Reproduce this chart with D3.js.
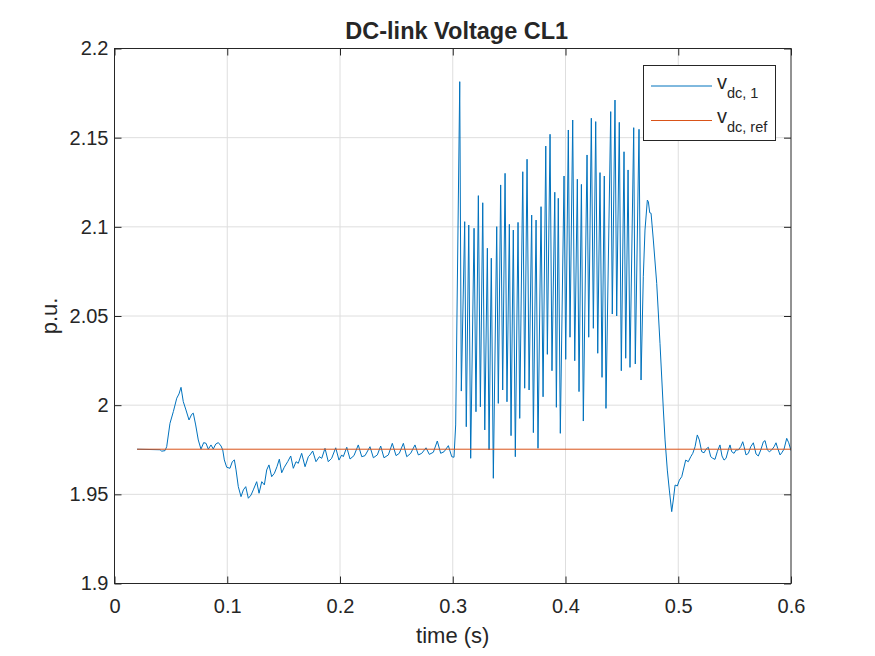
<!DOCTYPE html>
<html lang="en">
<head>
<meta charset="UTF-8">
<title>DC-link Voltage CL1</title>
<script src="https://d3js.org/d3.v7.min.js"></script>
<style>
  body { margin: 0; background: #fff; }
  svg text { font-family: "Liberation Sans", Arial, Helvetica, sans-serif; fill: #262626; }
</style>
</head>
<body>
<svg id="chart" width="875" height="656"></svg>
<script>
// v_dc,1, split in three stretches
const preTime = [0.0200, 0.0404, 0.0419, 0.0448, 0.0463, 0.0492, 0.0522, 0.0552, 0.0572, 0.0590, 0.0610, 0.0634, 0.0661, 0.0685, 0.0699, 0.0720, 0.0743, 0.0767, 0.0791, 0.0812, 0.0832, 0.0856, 0.0876, 0.0898, 0.0921, 0.0945, 0.0960, 0.0974, 0.0995, 0.1024, 0.1045, 0.1063, 0.1078, 0.1098, 0.1122, 0.1143, 0.1164, 0.1187, 0.1211, 0.1231, 0.1261, 0.1282, 0.1306, 0.1329, 0.1350, 0.1370, 0.1394, 0.1418, 0.1441, 0.1462, 0.1483, 0.1506, 0.1536, 0.1563,
  0.1586, 0.1610, 0.1630, 0.1660, 0.1690, 0.1719, 0.1734, 0.1758, 0.1787, 0.1817, 0.1838, 0.1867, 0.1896, 0.1926, 0.1962, 0.1991, 0.2015, 0.2029, 0.2060, 0.2089, 0.2124, 0.2162, 0.2193, 0.2222, 0.2266, 0.2296, 0.2331, 0.2361, 0.2390, 0.2429, 0.2464, 0.2497, 0.2526, 0.2562, 0.2592, 0.2627, 0.2665, 0.2695, 0.2725, 0.2763, 0.2792, 0.2828, 0.2863, 0.2893, 0.2923, 0.2961, 0.2991, 0.3011];
const preVdc = [1.9753, 1.9750, 1.9742, 1.9745, 1.9767, 1.9898, 1.9964, 2.0039, 2.0063, 2.0100, 2.0020, 1.9973, 1.9917, 1.9949, 1.9955, 1.9889, 1.9805, 1.9753, 1.9790, 1.9786, 1.9753, 1.9777, 1.9754, 1.9782, 1.9790, 1.9771, 1.9749, 1.9693, 1.9652, 1.9646, 1.9683, 1.9693, 1.9637, 1.9543, 1.9487, 1.9525, 1.9543, 1.9478, 1.9496, 1.9525, 1.9571, 1.9506, 1.9571, 1.9553, 1.9637, 1.9665, 1.9599, 1.9618, 1.9655, 1.9697, 1.9621, 1.9652, 1.9683, 1.9715,
  1.9646, 1.9683, 1.9674, 1.9730, 1.9655, 1.9711, 1.9721, 1.9743, 1.9683, 1.9711, 1.9702, 1.9758, 1.9683, 1.9702, 1.9761, 1.9692, 1.9721, 1.9711, 1.9764, 1.9698, 1.9717, 1.9777, 1.9711, 1.9717, 1.9767, 1.9705, 1.9721, 1.9771, 1.9705, 1.9721, 1.9786, 1.9717, 1.9730, 1.9786, 1.9711, 1.9730, 1.9777, 1.9721, 1.9730, 1.9761, 1.9724, 1.9736, 1.9799, 1.9730, 1.9739, 1.9773, 1.9711, 1.9708];

const oscTime = [0.3026, 0.3062, 0.3076, 0.3106, 0.3120, 0.3142, 0.3159, 0.3189, 0.3206, 0.3227, 0.3245, 0.3266, 0.3284, 0.3307, 0.3322, 0.3342, 0.3360, 0.3390, 0.3404, 0.3425, 0.3443, 0.3464, 0.3481, 0.3502, 0.3517, 0.3537, 0.3555, 0.3579, 0.3594, 0.3621, 0.3638, 0.3659, 0.3677, 0.3700, 0.3715, 0.3739, 0.3756, 0.3783, 0.3801, 0.3825, 0.3839, 0.3863, 0.3880, 0.3905, 0.3919, 0.3936, 0.3954, 0.3987, 0.4002, 0.4025, 0.4040, 0.4064, 0.4082, 0.4105, 0.4120, 0.4141, 0.4158, 0.4191, 0.4206, 0.4229, 0.4247, 0.4268, 0.4286, 0.4306, 0.4324, 0.4344, 0.4359, 0.4401, 0.4415, 0.4439, 0.4454, 0.4477, 0.4495, 0.4519, 0.4534, 0.4555, 0.4572, 0.4605, 0.4619, 0.4652, 0.4670];
const oscVdc = [1.9889, 2.1814, 2.0079, 2.1029, 1.9879, 2.1010, 1.9702, 2.0992, 1.9963, 2.1175, 1.9991, 2.1135, 1.9861, 2.0880, 1.9749, 2.0824, 1.9590, 2.1001, 2.0010, 2.1235, 2.0085, 2.1300, 2.0019, 2.1014, 1.9829, 2.0982, 1.9711, 2.1025, 1.9926, 2.1309, 2.0095, 2.1379, 2.0085, 2.1066, 1.9846, 2.1038, 1.9758, 2.1113, 2.0047, 2.1453, 2.0285, 2.1519, 2.0193, 2.1194, 1.9988, 2.1160, 1.9842, 2.1285, 2.0257, 2.1543, 2.0381, 2.1599, 2.0249, 2.1267, 2.0076, 2.1238, 1.9911, 2.1403, 2.0381, 2.1609, 2.0431, 2.1590, 2.0291, 2.1304, 2.0156, 2.1285, 1.9982, 2.1646, 2.0511, 2.1711, 2.0500, 2.1586, 2.0193, 2.1421, 2.0263, 2.1319, 2.0212, 2.1556, 2.0231, 2.1547, 2.0141];

const recTime = [0.4690, 0.4705, 0.4726, 0.4735, 0.4747, 0.4759, 0.4779, 0.4809, 0.4838, 0.4868, 0.4883, 0.4903, 0.4921, 0.4942, 0.4956, 0.4972, 0.4992, 0.5010, 0.5031, 0.5045, 0.5066, 0.5089, 0.5111, 0.5129, 0.5149, 0.5169, 0.5187, 0.5208, 0.5229, 0.5246, 0.5267, 0.5288, 0.5306, 0.5326, 0.5346, 0.5370, 0.5388, 0.5406, 0.5424, 0.5444, 0.5459, 0.5474, 0.5495, 0.5513, 0.5533, 0.5554, 0.5572, 0.5584, 0.5601, 0.5622, 0.5643, 0.5666, 0.5690, 0.5710, 0.5732, 0.5755, 0.5770, 0.5790, 0.5808, 0.5829, 0.5850, 0.5867, 0.5882, 0.5903, 0.5918, 0.5938, 0.5962, 0.5980, 0.6000];
const recVdc = [2.0720, 2.0982, 2.1150, 2.1141, 2.1079, 2.1076, 2.0926, 2.0683, 2.0347, 1.9973, 1.9805, 1.9636, 1.9524, 1.9403, 1.9468, 1.9552, 1.9547, 1.9580, 1.9599, 1.9636, 1.9692, 1.9683, 1.9711, 1.9730, 1.9767, 1.9833, 1.9805, 1.9739, 1.9733, 1.9753, 1.9764, 1.9711, 1.9702, 1.9696, 1.9739, 1.9777, 1.9715, 1.9692, 1.9702, 1.9749, 1.9777, 1.9739, 1.9730, 1.9749, 1.9749, 1.9767, 1.9795, 1.9767, 1.9721, 1.9730, 1.9767, 1.9789, 1.9726, 1.9715, 1.9749, 1.9795, 1.9801, 1.9749, 1.9739, 1.9749, 1.9767, 1.9789, 1.9758, 1.9721, 1.9733, 1.9753, 1.9814, 1.9789, 1.9745];

// reference
const refTime = [0.02, 0.6];
const refVdc = [1.9753, 1.9753];

const xTicks = [0, 0.1, 0.2, 0.3, 0.4, 0.5, 0.6];
const yTicks = [1.9, 1.95, 2, 2.05, 2.1, 2.15, 2.2];
const legendMain = ["v", "v"];
const legendSub = ["dc, 1", "dc, ref"];
const colors = ["#0072BD", "#D95319"];

const svg = d3.select("#chart");
const box = { left: 114.5, right: 791, top: 48.5, bottom: 583.5 };

const x = d3.scaleLinear().domain([0, 0.6]).range([box.left, box.right]);
const y = d3.scaleLinear().domain([1.9, 2.2]).range([box.bottom, box.top]);

// grid
const grid = svg.append("g").attr("stroke", "#dedede").attr("stroke-width", 1);
grid.selectAll(".gx").data(xTicks.slice(1, -1)).enter().append("line")
  .attr("x1", d => x(d)).attr("x2", d => x(d)).attr("y1", box.top).attr("y2", box.bottom);
grid.selectAll(".gy").data(yTicks.slice(1, -1)).enter().append("line")
  .attr("y1", d => y(d)).attr("y2", d => y(d)).attr("x1", box.left).attr("x2", box.right);

svg.append("clipPath").attr("id", "clip").append("rect")
  .attr("x", box.left).attr("y", box.top).attr("width", box.right - box.left).attr("height", box.bottom - box.top);

const line = d3.line().x(d => x(d[0])).y(d => y(d[1]));
const series1 = d3.zip(preTime.concat(oscTime, recTime), preVdc.concat(oscVdc, recVdc));
const seriesRef = d3.zip(refTime, refVdc);

const plot = svg.append("g").attr("clip-path", "url(#clip)");
plot.append("path").datum(series1).attr("d", line)
  .attr("fill", "none").attr("stroke", colors[0]).attr("stroke-width", 1).attr("stroke-linejoin", "round");
plot.append("path").datum(seriesRef).attr("d", line)
  .attr("fill", "none").attr("stroke", colors[1]).attr("stroke-width", 1);

// axes, ticks pointing inward on all four sides
const fmt = d => String(d);
function styleAxis(g) {
  g.select(".domain").remove();
  g.selectAll(".tick line").attr("stroke", "#262626");
  g.selectAll(".tick text").attr("font-size", 20).attr("fill", "#262626")
    .style("font-family", '"Liberation Sans", Arial, sans-serif');
}
svg.append("g").attr("transform", `translate(0,${box.bottom})`)
  .call(d3.axisBottom(x).tickValues(xTicks).tickFormat(fmt).tickSize(-7).tickPadding(15))
  .call(styleAxis);
svg.append("g").attr("transform", `translate(0,${box.top})`)
  .call(d3.axisTop(x).tickValues(xTicks).tickFormat("").tickSize(-7))
  .call(styleAxis);
svg.append("g").attr("transform", `translate(${box.left},0)`)
  .call(d3.axisLeft(y).tickValues(yTicks).tickFormat(fmt).tickSize(-7).tickPadding(6))
  .call(styleAxis);
svg.append("g").attr("transform", `translate(${box.right},0)`)
  .call(d3.axisRight(y).tickValues(yTicks).tickFormat("").tickSize(-7))
  .call(styleAxis);

svg.append("rect").attr("x", box.left).attr("y", box.top)
  .attr("width", box.right - box.left).attr("height", box.bottom - box.top)
  .attr("fill", "none").attr("stroke", "#262626").attr("stroke-width", 1);

// labels
svg.append("text").attr("x", (box.left + box.right) / 2 + 4).attr("y", 39)
  .attr("text-anchor", "middle").attr("font-size", 23.5).attr("font-weight", "bold")
  .text("DC-link Voltage CL1");
svg.append("text").attr("x", (box.left + box.right) / 2).attr("y", 643)
  .attr("text-anchor", "middle").attr("font-size", 22).text("time (s)");
svg.append("text").attr("transform", `translate(57,${(box.top + box.bottom) / 2}) rotate(-90)`)
  .attr("text-anchor", "middle").attr("font-size", 22).text("p.u.");

// legend
const lg = svg.append("g");
lg.append("rect").attr("x", 643.5).attr("y", 65.5).attr("width", 132).attr("height", 75)
  .attr("fill", "#fff").attr("stroke", "#262626").attr("stroke-width", 1);
const rowY = [86, 120.5];
legendMain.forEach((m, i) => {
  lg.append("line").attr("x1", 651).attr("x2", 712).attr("y1", rowY[i]).attr("y2", rowY[i])
    .attr("stroke", colors[i]).attr("stroke-width", 1);
  const t = lg.append("text").attr("x", 717).attr("y", rowY[i] + 2.5).attr("font-size", 20);
  t.append("tspan").text(m);
  t.append("tspan").attr("dy", 9).attr("font-size", 14.5).text(legendSub[i]);
});
</script>
</body>
</html>
